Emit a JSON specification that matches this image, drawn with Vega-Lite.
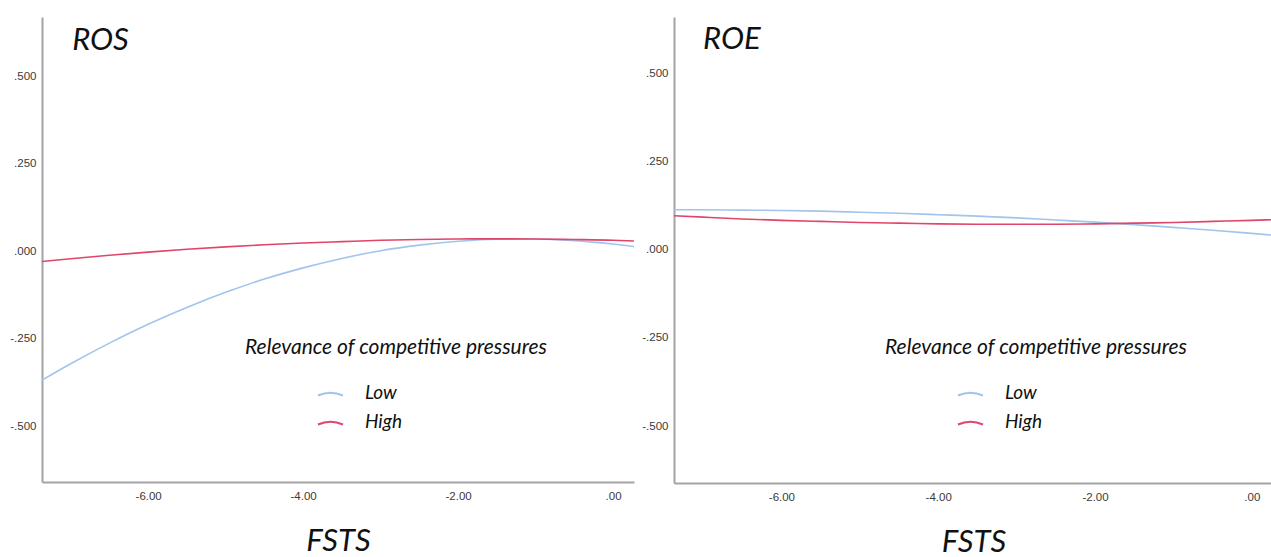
{
  "$schema": "https://vega.github.io/schema/vega-lite/v6.json",
  "padding": {"left": 9, "top": 17, "right": 0, "bottom": 0},
  "background": "white",
  "config": {
    "view": {"stroke": null},
    "axis": {
      "grid": false,
      "ticks": false,
      "domainColor": "#a3a3a3",
      "domainWidth": 2,
      "labelFont": "Liberation Sans",
      "labelFontSize": 11.5,
      "labelColor": "#3a3a3a"
    },
    "legend": {
      "orient": "none",
      "titleFont": "Lato",
      "titleFontSize": 21,
      "titleFontStyle": "italic",
      "titleFontWeight": "normal",
      "titleColor": "#111111",
      "titlePadding": 21.5,
      "titleLimit": 600,
      "labelFont": "Lato",
      "labelFontSize": 19,
      "labelFontStyle": "italic",
      "labelColor": "#111111",
      "symbolType": "M-1,0.2Q0,-0.25,1,0.2",
      "symbolSize": 625,
      "symbolStrokeWidth": 2,
      "symbolFillColor": "transparent",
      "symbolOffset": 72,
      "labelOffset": 21,
      "rowPadding": 5
    }
  },
  "datasets": {
    "curves": [
      {"panel": "ROS", "group": "Low", "fsts": -7.37, "value": -0.369},
      {"panel": "ROS", "group": "Low", "fsts": -7.0, "value": -0.322},
      {"panel": "ROS", "group": "Low", "fsts": -6.5, "value": -0.263},
      {"panel": "ROS", "group": "Low", "fsts": -6.0, "value": -0.209},
      {"panel": "ROS", "group": "Low", "fsts": -5.5, "value": -0.161},
      {"panel": "ROS", "group": "Low", "fsts": -5.0, "value": -0.118},
      {"panel": "ROS", "group": "Low", "fsts": -4.5, "value": -0.080},
      {"panel": "ROS", "group": "Low", "fsts": -4.0, "value": -0.048},
      {"panel": "ROS", "group": "Low", "fsts": -3.5, "value": -0.021},
      {"panel": "ROS", "group": "Low", "fsts": -3.0, "value": 0.001},
      {"panel": "ROS", "group": "Low", "fsts": -2.5, "value": 0.017},
      {"panel": "ROS", "group": "Low", "fsts": -2.0, "value": 0.028},
      {"panel": "ROS", "group": "Low", "fsts": -1.5, "value": 0.034},
      {"panel": "ROS", "group": "Low", "fsts": -1.0, "value": 0.0346},
      {"panel": "ROS", "group": "Low", "fsts": -0.5, "value": 0.030},
      {"panel": "ROS", "group": "Low", "fsts": 0.0, "value": 0.020},
      {"panel": "ROS", "group": "Low", "fsts": 0.27, "value": 0.013},
      {"panel": "ROS", "group": "High", "fsts": -7.37, "value": -0.030},
      {"panel": "ROS", "group": "High", "fsts": -7.0, "value": -0.022},
      {"panel": "ROS", "group": "High", "fsts": -6.5, "value": -0.012},
      {"panel": "ROS", "group": "High", "fsts": -6.0, "value": -0.003},
      {"panel": "ROS", "group": "High", "fsts": -5.5, "value": 0.005},
      {"panel": "ROS", "group": "High", "fsts": -5.0, "value": 0.012},
      {"panel": "ROS", "group": "High", "fsts": -4.5, "value": 0.018},
      {"panel": "ROS", "group": "High", "fsts": -4.0, "value": 0.023},
      {"panel": "ROS", "group": "High", "fsts": -3.5, "value": 0.027},
      {"panel": "ROS", "group": "High", "fsts": -3.0, "value": 0.031},
      {"panel": "ROS", "group": "High", "fsts": -2.5, "value": 0.033},
      {"panel": "ROS", "group": "High", "fsts": -2.0, "value": 0.0345},
      {"panel": "ROS", "group": "High", "fsts": -1.5, "value": 0.035},
      {"panel": "ROS", "group": "High", "fsts": -1.0, "value": 0.0345},
      {"panel": "ROS", "group": "High", "fsts": -0.5, "value": 0.033},
      {"panel": "ROS", "group": "High", "fsts": 0.0, "value": 0.031},
      {"panel": "ROS", "group": "High", "fsts": 0.27, "value": 0.029},
      {"panel": "ROE", "group": "Low", "fsts": -7.37, "value": 0.113},
      {"panel": "ROE", "group": "Low", "fsts": -7.0, "value": 0.113},
      {"panel": "ROE", "group": "Low", "fsts": -6.5, "value": 0.112},
      {"panel": "ROE", "group": "Low", "fsts": -6.0, "value": 0.111},
      {"panel": "ROE", "group": "Low", "fsts": -5.5, "value": 0.109},
      {"panel": "ROE", "group": "Low", "fsts": -5.0, "value": 0.106},
      {"panel": "ROE", "group": "Low", "fsts": -4.5, "value": 0.103},
      {"panel": "ROE", "group": "Low", "fsts": -4.0, "value": 0.099},
      {"panel": "ROE", "group": "Low", "fsts": -3.5, "value": 0.095},
      {"panel": "ROE", "group": "Low", "fsts": -3.0, "value": 0.090},
      {"panel": "ROE", "group": "Low", "fsts": -2.5, "value": 0.084},
      {"panel": "ROE", "group": "Low", "fsts": -2.0, "value": 0.078},
      {"panel": "ROE", "group": "Low", "fsts": -1.5, "value": 0.071},
      {"panel": "ROE", "group": "Low", "fsts": -1.0, "value": 0.063},
      {"panel": "ROE", "group": "Low", "fsts": -0.5, "value": 0.055},
      {"panel": "ROE", "group": "Low", "fsts": 0.0, "value": 0.046},
      {"panel": "ROE", "group": "Low", "fsts": 0.27, "value": 0.041},
      {"panel": "ROE", "group": "High", "fsts": -7.37, "value": 0.096},
      {"panel": "ROE", "group": "High", "fsts": -7.0, "value": 0.092},
      {"panel": "ROE", "group": "High", "fsts": -6.5, "value": 0.087},
      {"panel": "ROE", "group": "High", "fsts": -6.0, "value": 0.083},
      {"panel": "ROE", "group": "High", "fsts": -5.5, "value": 0.080},
      {"panel": "ROE", "group": "High", "fsts": -5.0, "value": 0.077},
      {"panel": "ROE", "group": "High", "fsts": -4.5, "value": 0.075},
      {"panel": "ROE", "group": "High", "fsts": -4.0, "value": 0.073},
      {"panel": "ROE", "group": "High", "fsts": -3.5, "value": 0.072},
      {"panel": "ROE", "group": "High", "fsts": -3.0, "value": 0.072},
      {"panel": "ROE", "group": "High", "fsts": -2.5, "value": 0.072},
      {"panel": "ROE", "group": "High", "fsts": -2.0, "value": 0.073},
      {"panel": "ROE", "group": "High", "fsts": -1.5, "value": 0.075},
      {"panel": "ROE", "group": "High", "fsts": -1.0, "value": 0.077},
      {"panel": "ROE", "group": "High", "fsts": -0.5, "value": 0.080},
      {"panel": "ROE", "group": "High", "fsts": 0.0, "value": 0.083},
      {"panel": "ROE", "group": "High", "fsts": 0.27, "value": 0.085}
    ]
  },
  "resolve": {"scale": {"color": "independent"}},
  "spacing": 3,
  "hconcat": [
    {
      "width": 592,
      "height": 465,
      "layer": [
        {
          "data": {"name": "curves"},
          "transform": [{"filter": "datum.panel === 'ROS'"}],
          "mark": {"type": "line", "strokeWidth": 1.6, "interpolate": "monotone"},
          "encoding": {
            "x": {
              "field": "fsts", "type": "quantitative",
              "scale": {"domain": [-7.37, 0.27], "nice": false, "zero": false},
              "axis": {
                "values": [-6, -4, -2, 0],
                "labelPadding": 8,
                "labelExpr": "(datum.value < 0 ? '-' : '') + replace(format(abs(datum.value), '.2f'), '0.', '.')",
                "title": "FSTS",
                "titleFont": "Lato",
                "titleFontSize": 31,
                "titleFontStyle": "italic",
                "titleFontWeight": "normal",
                "titleColor": "#111111",
                "titlePadding": 25
              }
            },
            "y": {
              "field": "value", "type": "quantitative",
              "scale": {"domain": [-0.66, 0.669], "nice": false, "zero": false},
              "axis": {
                "values": [-0.5, -0.25, 0, 0.25, 0.5],
                "labelPadding": 6,
                "labelExpr": "(datum.value < 0 ? '-' : '') + replace(format(abs(datum.value), '.3f'), '0.', '.')",
                "title": null
              }
            },
            "color": {
              "field": "group", "type": "nominal",
              "scale": {"domain": ["Low", "High"], "range": ["#a2c4ec", "#e0456b"]},
              "legend": {"title": "Relevance of competitive pressures", "legendX": 203, "legendY": 320}
            },
            "detail": {"field": "group"}
          }
        },
        {
          "data": {"values": [{"label": "ROS"}]},
          "mark": {"type": "text", "font": "Lato", "fontSize": 31, "fontStyle": "italic", "align": "left", "baseline": "alphabetic", "color": "#111111"},
          "encoding": {
            "x": {"datum": -6.98},
            "y": {"datum": 0.574},
            "text": {"field": "label"}
          }
        }
      ]
    },
    {
      "width": 599,
      "height": 466,
      "layer": [
        {
          "data": {"name": "curves"},
          "transform": [{"filter": "datum.panel === 'ROE'"}],
          "mark": {"type": "line", "strokeWidth": 1.6, "interpolate": "monotone"},
          "encoding": {
            "x": {
              "field": "fsts", "type": "quantitative",
              "scale": {"domain": [-7.37, 0.27], "nice": false, "zero": false},
              "axis": {
                "values": [-6, -4, -2, 0],
                "labelPadding": 8,
                "labelExpr": "(datum.value < 0 ? '-' : '') + replace(format(abs(datum.value), '.2f'), '0.', '.')",
                "title": "FSTS",
                "titleFont": "Lato",
                "titleFontSize": 31,
                "titleFontStyle": "italic",
                "titleFontWeight": "normal",
                "titleColor": "#111111",
                "titlePadding": 25
              }
            },
            "y": {
              "field": "value", "type": "quantitative",
              "scale": {"domain": [-0.661, 0.659], "nice": false, "zero": false},
              "axis": {
                "values": [-0.5, -0.25, 0, 0.25, 0.5],
                "labelPadding": 6,
                "labelExpr": "(datum.value < 0 ? '-' : '') + replace(format(abs(datum.value), '.3f'), '0.', '.')",
                "title": null
              }
            },
            "color": {
              "field": "group", "type": "nominal",
              "scale": {"domain": ["Low", "High"], "range": ["#a2c4ec", "#e0456b"]},
              "legend": {"title": "Relevance of competitive pressures", "legendX": 211, "legendY": 320}
            },
            "detail": {"field": "group"}
          }
        },
        {
          "data": {"values": [{"label": "ROE"}]},
          "mark": {"type": "text", "font": "Lato", "fontSize": 31, "fontStyle": "italic", "align": "left", "baseline": "alphabetic", "color": "#111111"},
          "encoding": {
            "x": {"datum": -7.0},
            "y": {"datum": 0.568},
            "text": {"field": "label"}
          }
        }
      ]
    }
  ]
}
